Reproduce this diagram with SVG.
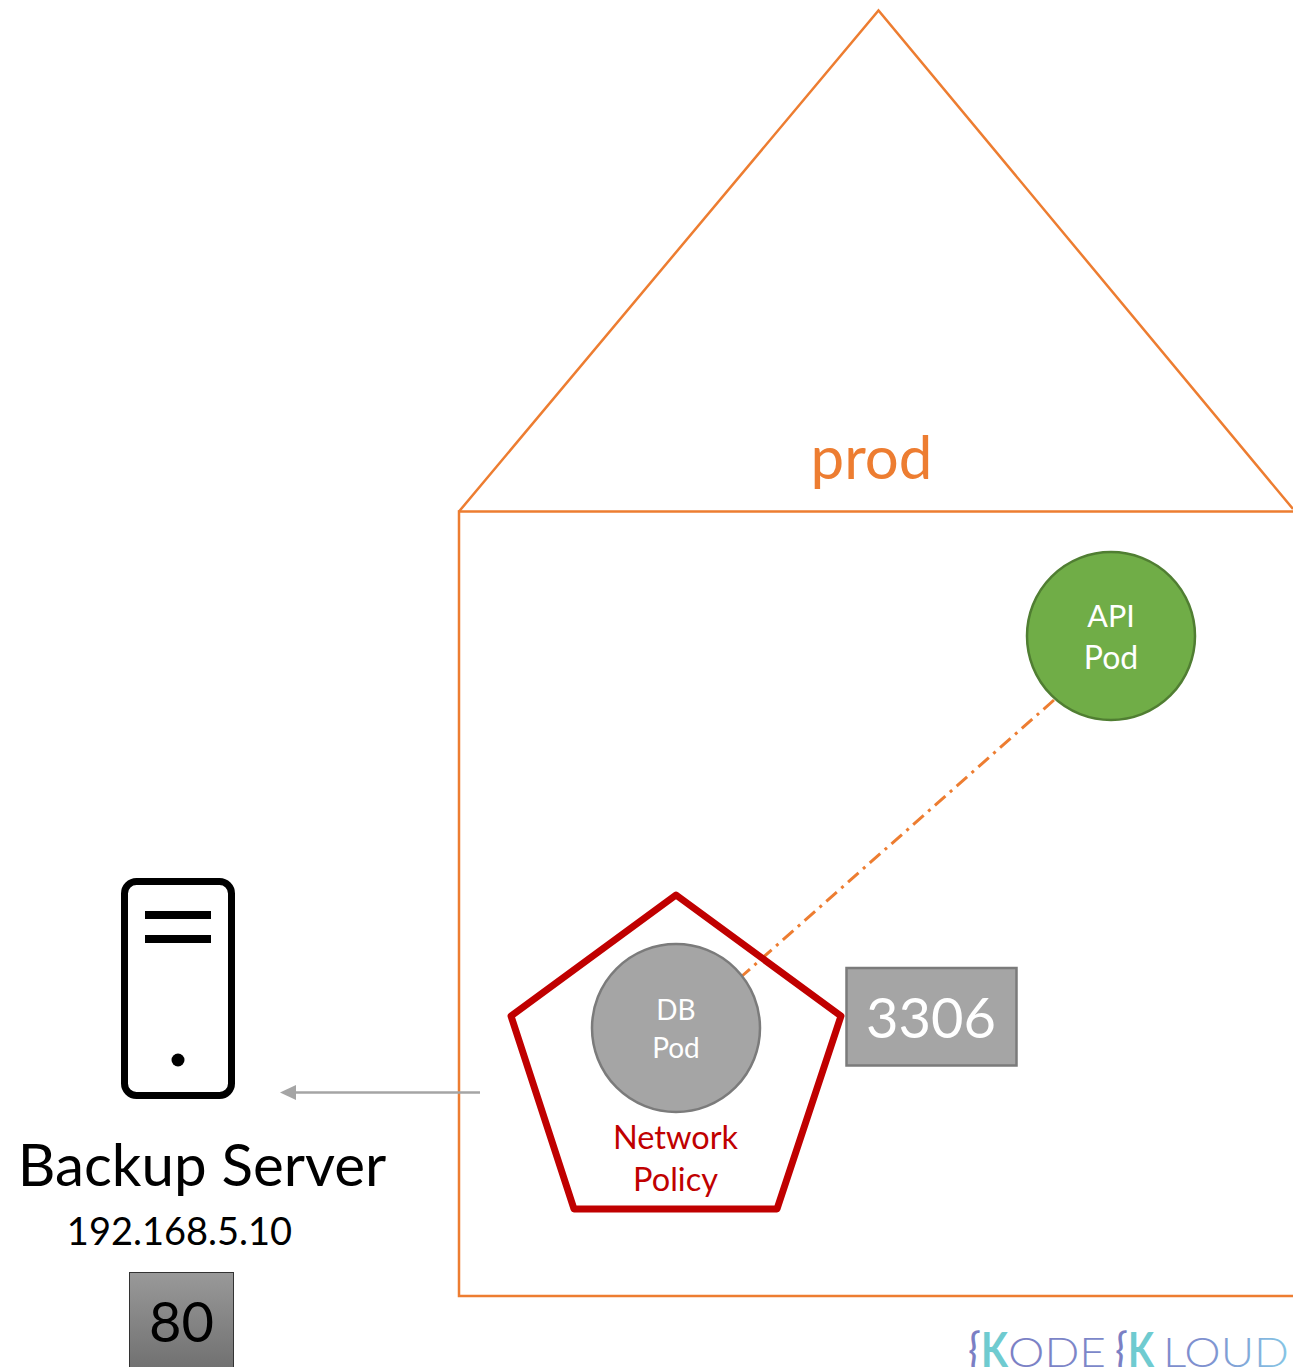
<svg xmlns="http://www.w3.org/2000/svg" width="1293" height="1367" viewBox="0 0 1293 1367">
<style>
text{font-family:Lato,"Open Sans",sans-serif}
.m{text-anchor:middle}
.w{fill:#fff}
.ns{fill:none;stroke:#ed7d31;stroke-width:2.5}
.logo{font-size:40.500px;font-weight:300;fill:url(#lg)}
.brace{font-size:46px;font-weight:400;fill:#7b7fc4}
.chev{font-size:48px;font-weight:700;fill:#6fcbd0}
</style>
<defs>
<linearGradient id="g80" x1="0" y1="0" x2="0" y2="1"><stop offset="0" stop-color="#999"/><stop offset="1" stop-color="#6f6f6f"/></linearGradient>
<linearGradient id="lg" gradientUnits="userSpaceOnUse" x1="1000" y1="0" x2="1293" y2="0"><stop offset="0" stop-color="#7b7fc4"/><stop offset=".7" stop-color="#7f90cf"/><stop offset="1" stop-color="#86c8e6"/></linearGradient>
<marker id="ah" markerUnits="userSpaceOnUse" markerWidth="16" markerHeight="16" refX="8" refY="8" orient="auto"><path d="M0 .5L16 8L0 15.500Z" fill="#a5a5a5"/></marker>
</defs>
<g id="prod">
<path class="ns" d="M1293 511.500H459V1296H1293"/>
<path class="ns" d="M459 511.500L878.500 10.500L1293 509"/>
<text x="871.500" y="479" class="m" font-size="60" fill="#ed7d31">prod</text>
</g>
<g id="connectors">
<path d="M1054 700L742 976" fill="none" stroke="#ed7d31" stroke-width="3" stroke-dasharray="14 6 3 6"/>
<path d="M480 1092.500H288" fill="none" stroke="#a5a5a5" stroke-width="2.500" marker-end="url(#ah)"/>
</g>
<g id="network-policy">
<path d="M676 895L841 1016L777 1209H574L511 1016Z" fill="none" stroke="#c00000" stroke-width="7" stroke-linejoin="round"/>
<text x="675.500" y="1148.500" class="m" font-size="32.500" fill="#c00000">Network</text>
<text x="675.500" y="1190.500" class="m" font-size="32.500" fill="#c00000">Policy</text>
</g>
<g id="db-pod">
<circle cx="676" cy="1028" r="84" fill="#a5a5a5" stroke="#7b7b7b" stroke-width="2.500"/>
<text x="676" y="1020" class="m w" font-size="28">DB</text>
<text x="676" y="1058" class="m w" font-size="28">Pod</text>
</g>
<g id="port-3306">
<rect x="846.500" y="968" width="170" height="97.500" fill="#a5a5a5" stroke="#7b7b7b" stroke-width="2.500"/>
<text x="931" y="1038" class="m w" font-size="56">3306</text>
</g>
<g id="api-pod">
<circle cx="1111" cy="636" r="84" fill="#70ad47" stroke="#507e32" stroke-width="2.500"/>
<text x="1111" y="627" class="m w" font-size="30.500">API</text>
<text x="1111" y="669" class="m w" font-size="32">Pod</text>
</g>
<g id="backup-server">
<rect x="124.500" y="881.500" width="107" height="214" rx="12" fill="none" stroke="#000" stroke-width="7"/>
<rect x="145" y="911" width="66" height="8"/>
<rect x="145" y="935" width="66" height="8"/>
<circle cx="178" cy="1060" r="6.500"/>
<text x="202" y="1186" class="m" font-size="58.300">Backup Server</text>
<text x="179.500" y="1245" class="m" font-size="38">192.168.5.10</text>
</g>
<g id="port-80">
<rect x="129.500" y="1272.500" width="104" height="100" fill="url(#g80)" stroke="#333" stroke-width="1"/>
<text x="181.500" y="1342" class="m" font-size="56">80</text>
</g>
<g id="logo">
<text x="981" y="1367" class="chev" textLength="27" lengthAdjust="spacingAndGlyphs">K</text>
<text x="968" y="1366" class="brace" textLength="13" lengthAdjust="spacingAndGlyphs">{</text>
<text x="1008" y="1367" class="logo" textLength="98" lengthAdjust="spacingAndGlyphs">ODE</text>
<text x="1128" y="1367" class="chev" textLength="26" lengthAdjust="spacingAndGlyphs">K</text>
<text x="1115" y="1366" class="brace" textLength="13" lengthAdjust="spacingAndGlyphs">{</text>
<text x="1163" y="1367" class="logo" textLength="126" lengthAdjust="spacingAndGlyphs">LOUD</text>
</g>
</svg>
